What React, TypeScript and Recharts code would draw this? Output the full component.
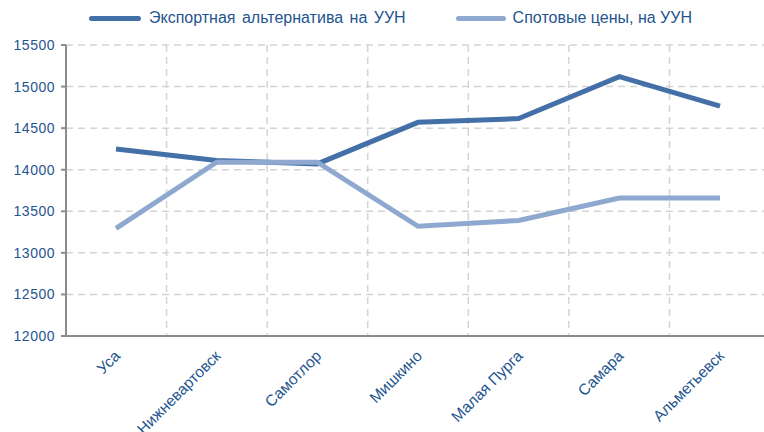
import { LineChart, Line, CartesianGrid, XAxis, YAxis, Legend } from "recharts";

const stations = [
  "Уса",
  "Нижневартовск",
  "Самотлор",
  "Мишкино",
  "Малая Пурга",
  "Самара",
  "Альметьевск",
];
const exportAlt = [14250, 14110, 14070, 14570, 14615, 15120, 14765];
const spotPrices = [13295, 14090, 14090, 13320, 13390, 13660, 13660];
const yTicks = [12000, 12500, 13000, 13500, 14000, 14500, 15000, 15500];

const seriesNames = {
  exportAlt: "Экспортная альтернатива на УУН",
  spot: "Спотовые цены, на УУН",
};

const data = stations.map((name, i) => ({
  name,
  exportAlt: exportAlt[i],
  spot: spotPrices[i],
}));

const textColor = "#1f5590";
const darkBlue = "#4470a8";
const lightBlue = "#8ea8cf";

const LegendBox = () => (
  <div
    style={{
      display: "flex",
      alignItems: "center",
      height: 20,
      fontFamily: "'Liberation Sans', Arial, sans-serif",
      fontSize: 16,
      color: textColor,
    }}
  >
    <span style={{ width: 52, height: 5, background: darkBlue, borderRadius: 3, marginRight: 8 }} />
    <span style={{ wordSpacing: 2 }}>{seriesNames.exportAlt}</span>
    <span style={{ width: 50, height: 5, background: lightBlue, borderRadius: 3, marginLeft: 50, marginRight: 7 }} />
    <span>{seriesNames.spot}</span>
  </div>
);

const XTick = ({ x, y, payload }: any) => (
  <text
    x={x + 5}
    y={y + 13}
    transform={`rotate(-45 ${x + 5} ${y + 13})`}
    textAnchor="end"
    fill={textColor}
    fontSize={15.5}
    fontFamily="'Liberation Sans', Arial, sans-serif"
  >
    {payload.value}
  </text>
);

const App = () => {
  return (
    <div
      style={{
        position: "absolute",
        left: 0,
        top: 0,
        width: 764,
        height: 432,
        overflow: "hidden",
        background: "#fff",
      }}
    >
      <LineChart
        width={770}
        height={432}
        data={data}
        margin={{ top: 25, right: 0, bottom: 0, left: 0 }}
      >
        <CartesianGrid
          stroke="#d4d4d4"
          strokeDasharray="7 5"
          strokeWidth={1.5}
          verticalCoordinatesGenerator={({ offset }: any) =>
            stations.slice(1).map((_, i) => offset.left + ((i + 1) * offset.width) / stations.length)
          }
        />
        <XAxis
          dataKey="name"
          interval={0}
          height={96}
          padding={{ left: 50, right: 50 }}
          stroke="#8c8c8c"
          strokeWidth={2}
          tickLine={false}
          tick={<XTick />}
        />
        <YAxis
          width={66}
          domain={[12000, 15500]}
          ticks={yTicks}
          stroke="#8c8c8c"
          strokeWidth={2}
          tickSize={5}
          tickMargin={6}
          tick={{
            fill: textColor,
            fontSize: 14,
            fontFamily: "'Liberation Sans', Arial, sans-serif",
            letterSpacing: 0.5,
          }}
        />
        <Legend
          verticalAlign="top"
          content={<LegendBox />}
          wrapperStyle={{ top: 8, left: 89, width: "auto" }}
        />
        <Line
          type="linear"
          dataKey="exportAlt"
          name={seriesNames.exportAlt}
          stroke={darkBlue}
          strokeWidth={5}
          dot={false}
          isAnimationActive={false}
        />
        <Line
          type="linear"
          dataKey="spot"
          name={seriesNames.spot}
          stroke={lightBlue}
          strokeWidth={5}
          dot={false}
          isAnimationActive={false}
        />
      </LineChart>
    </div>
  );
};

export default App;
